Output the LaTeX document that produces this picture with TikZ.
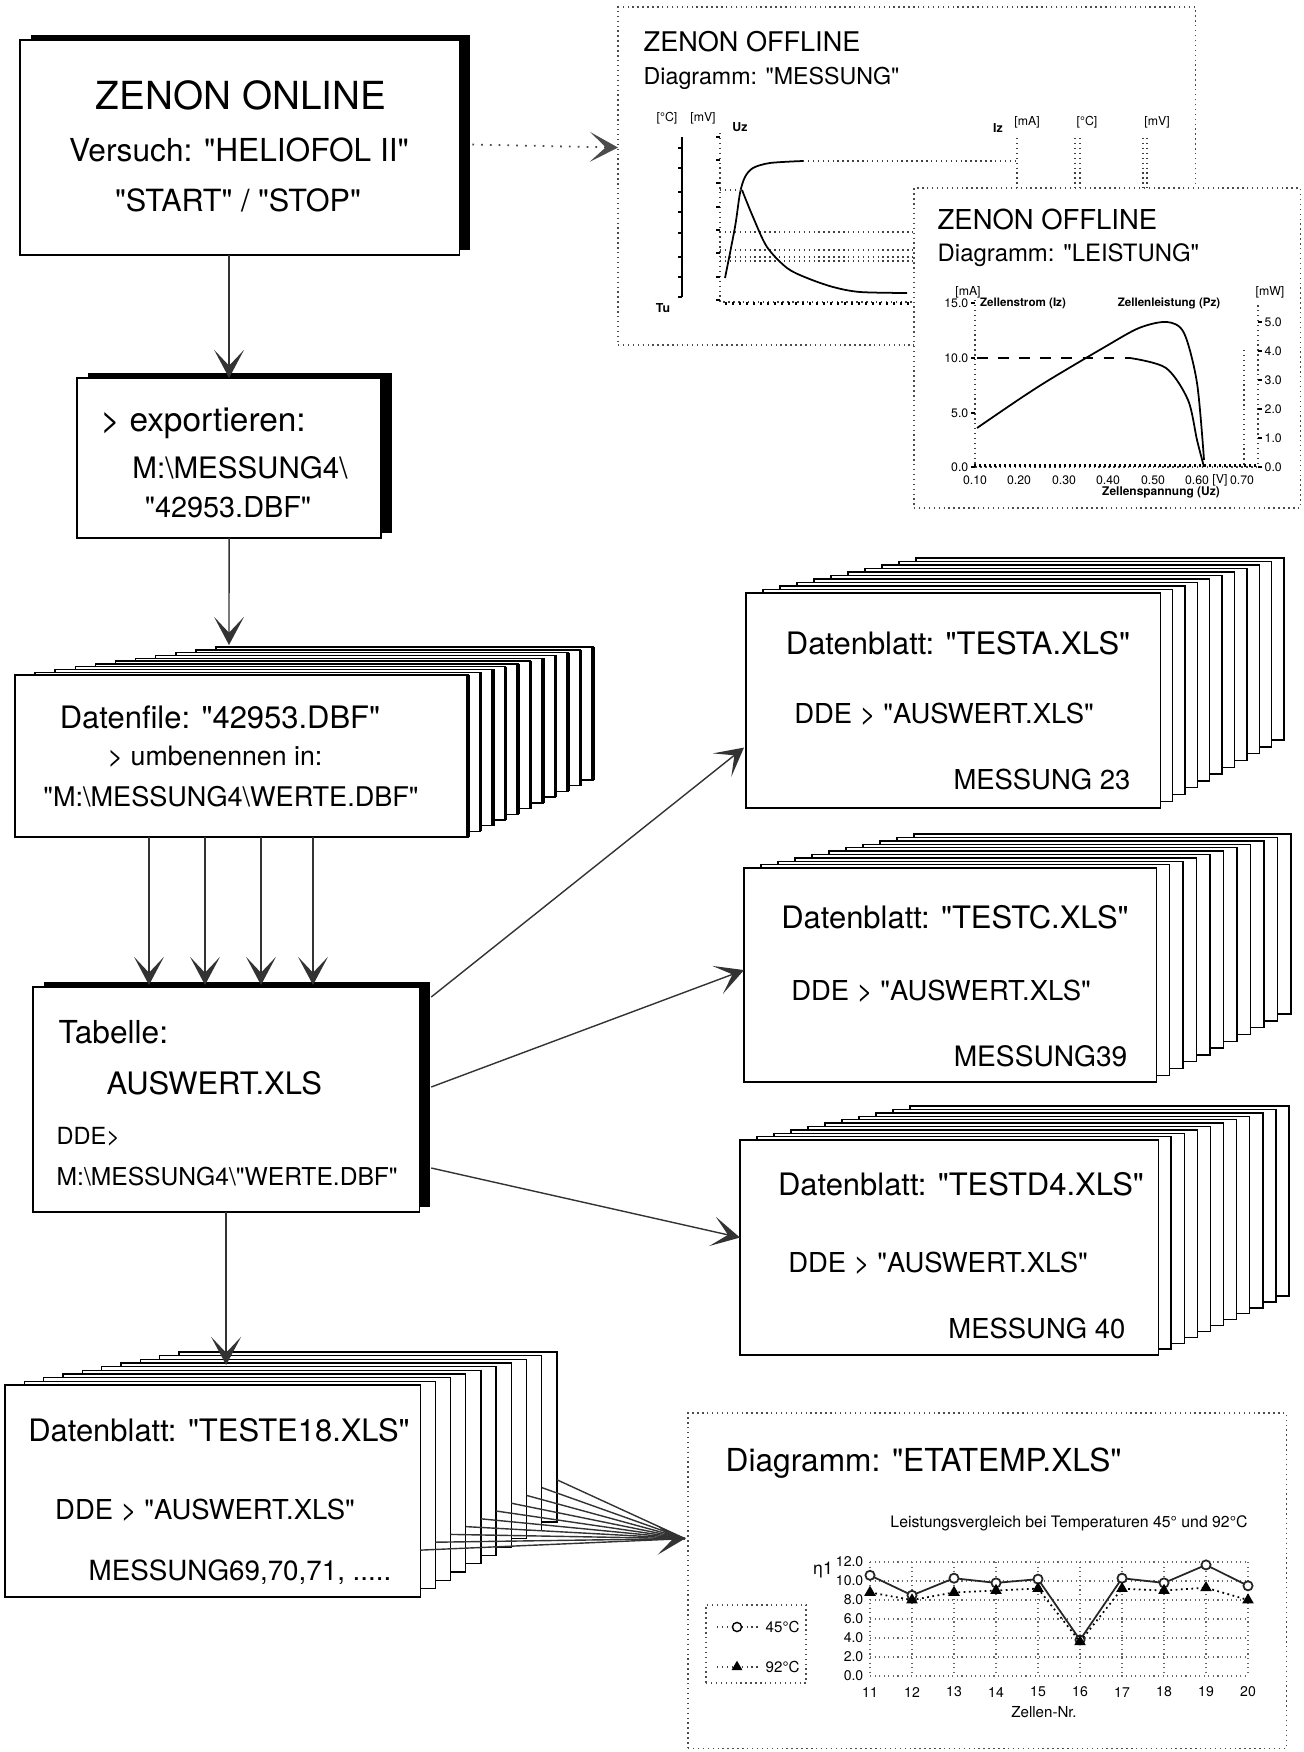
\documentclass[tikz,border=0pt]{standalone}
\usepackage{fontspec}
\setmainfont{TeX Gyre Heros}[Ligatures=TeXOff]
\usetikzlibrary{arrows.meta,calc,shadows,plotmarks}
\newcommand\fsz[1]{\fontsize{#1pt}{#1pt}\selectfont}
% a pile of sheets, back one first, up to the one behind the front sheet
\newcommand\sheetstack[9]{%
  \foreach \i in {#1,...,1}{%
    \pgfmathsetmacro\shl{#2+(#6-#2)*\i/#1}%
    \pgfmathsetmacro\sht{#3+(#7-#3)*\i/#1}%
    \pgfmathsetmacro\shr{#4+(#8-#4)*\i/#1}%
    \pgfmathsetmacro\shb{#5+(#9-#5)*\i/#1}%
    \filldraw[sheet] (\shl,\sht) rectangle (\shr,\shb);
    \draw[sheetedge] (\shr,\sht) -- (\shr,\shb);
  }}
\tikzset{
  conn/.style={draw=black!80, line width=0.4pt},
  dotconn/.style={draw=black!70, line width=0.5pt, dotted},
  chev/.style={-{Stealth[length=8pt,width=8.5pt,inset=4.5pt]}},
  box/.style={draw, line width=0.4pt, fill=white, inner sep=0pt, outer sep=0pt, anchor=north west},
  shbox/.style={box, drop shadow={shadow xshift=3.1pt, shadow yshift=1.4pt, opacity=1, fill=black}},
  dotbox/.style={box, draw=black!70, densely dotted},
  sheet/.style={draw, fill=white, line width=0.4pt},
  sheetedge/.style={line width=0.4pt},
  txt/.style={inner sep=0pt},
  ax/.style={black!75, densely dotted, line width=0.4pt},
  grid/.style={black!60, densely dotted, line width=0.3pt},
  tick/.style={inner sep=0pt, font=\fsz{3.5}},
}
\begin{document}
\begin{tikzpicture}[x=0.01cm,y=-0.01cm]
\useasboundingbox (0,0) rectangle (1304,1752);

% ZENON OFFLINE: MESSUNG
\node[dotbox, minimum width=5.77cm, minimum height=3.38cm] (mess) at (618,7) {};
\node[txt, font=\fsz{7.7}, anchor=west] (messT1) at (643,42) {ZENON OFFLINE};
\node[txt, font=\fsz{6.6}, anchor=west] (messT2) at (643,78) {Diagramm: "MESSUNG"};
\draw[line width=0.4pt] (682,137) -- (682,297);
\foreach \y in {148,168,192,212,233,257,277,297} \draw[line width=0.3pt] (678,\y) -- (682,\y);
\draw[ax] (720,133) -- (720,302) -- (914,302);
\foreach \y in {137,160,183,207,230,253,277,300} \draw[line width=0.3pt] (716,\y) -- (720,\y);
\foreach \x in {726,733,...,912} \draw[line width=0.3pt] (\x,302) -- (\x,305);
\foreach \y in {232,250,257,261} \draw[ax] (720,\y) -- (914,\y);
\draw[line width=0.5pt] plot[smooth] coordinates {(725,278) (735,227) (740,193) (745,177) (753,168) (770,163) (803,161)};
\draw[ax] (803,161) -- (1017,161);
\draw[ax] (720,190) -- (742,190);
\draw[line width=0.5pt] plot[smooth] coordinates {(742,190) (753,217) (767,247) (787,268) (807,278) (833,287) (860,292) (907,293)};
\foreach \x in {1017,1075,1080,1143,1147} \draw[ax] (\x,138) -- (\x,190);
\node[tick] (tuL) at (663,308) {\bfseries Tu};
\node[tick] (uzL) at (740,127) {\bfseries Uz};
\node[tick] (izL) at (998,128) {\bfseries Iz};
\node[tick] (unitA) at (667,118) {[°C]};
\node[tick] (unitB) at (703,118) {[mV]};
\node[tick] (unitC) at (1027,122) {[mA]};
\node[tick] (unitD) at (1087,122) {[°C]};
\node[tick] (unitE) at (1157,122) {[mV]};

% ZENON OFFLINE: LEISTUNG
\node[dotbox, minimum width=3.86cm, minimum height=3.20cm] (leist) at (914,188) {};
\node[txt, font=\fsz{7.8}, anchor=west] (leiT1) at (937,220) {ZENON OFFLINE};
\node[txt, font=\fsz{6.8}, anchor=west] (leiT2) at (937,255) {Diagramm: "LEISTUNG"};
\draw[ax] (975,300) -- (975,467) -- (1258,467) -- (1258,303);
\draw[ax] (1244,350) -- (1244,467);
\foreach \y in {303,358,413,467} \draw[line width=0.3pt] (971,\y) -- (975,\y);
\foreach \y in {322,351,380,409,438,467} \draw[line width=0.3pt] (1258,\y) -- (1262,\y);
\foreach \x in {975,980,...,1255} \draw[line width=0.3pt] (\x,467) -- (\x,464);
\foreach \y/\t [count=\k] in {303/15.0,358/10.0,413/5.0,467/0.0}
  \node[tick, anchor=east] (iy\k) at (969,\y) {\t};
\foreach \y/\t [count=\k] in {322/5.0,351/4.0,380/3.0,409/2.0,438/1.0,467/0.0}
  \node[tick, anchor=west] (py\k) at (1264,\y) {\t};
\foreach \x/\t [count=\k] in {975/0.10,1019/0.20,1064/0.30,1108/0.40,1153/0.50,1197/0.60,1242/0.70}
  \node[tick] (ux\k) at (\x,480) {\t};
\node[tick] (maL) at (968,292) {[mA]};
\node[tick] (mwL) at (1270,292) {[mW]};
\node[tick] (vL) at (1220,480) {[V]};
\node[tick, font=\fsz{3.4}\bfseries] (uzT) at (1161,492) {Zellenspannung (Uz)};
\node[tick, font=\fsz{3.3}\bfseries] (izT) at (1023,303) {Zellenstrom (Iz)};
\node[tick, font=\fsz{3.3}\bfseries] (pzT) at (1169,303) {Zellenleistung (Pz)};
\draw[line width=0.5pt] plot[smooth] coordinates {(977,428) (1018,400) (1049,380) (1103,348) (1139,328) (1167,322) (1184,333) (1197,383) (1204,460)};
\draw[line width=0.5pt, dashed] (977,358) -- (1130,358);
\draw[line width=0.5pt] plot[smooth] coordinates {(1130,358) (1166,368) (1188,400) (1197,440) (1204,467)};

% ZENON ONLINE
\node[shbox, minimum width=4.39cm, minimum height=2.15cm] (online) at (20,40) {};
\node[txt, font=\fsz{11}] (onT1) at (241,95) {ZENON ONLINE};
\node[txt, font=\fsz{9}] (onT2) at (239,150) {Versuch: "HELIOFOL II"};
\node[txt, font=\fsz{8.7}] (onT3) at (238,200) {"START" / "STOP"};
\draw[dotconn, chev] ($(online.east)+(13,-3)$) -- (mess.west |- online.east);

% export
\node[shbox, minimum width=3.04cm, minimum height=1.60cm] (export) at (77,378) {};
\node[txt, font=\fsz{9.5}, anchor=west] (exT1) at (100,423) {> exportieren:};
\node[txt, font=\fsz{8.4}] (exT2) at (240,468) {M:\textbackslash MESSUNG4\textbackslash};
\node[txt, font=\fsz{8.2}] (exT3) at (228,507) {"42953.DBF"};
\draw[conn, chev] (export.north |- online.south) -- (export.north);

% Datenfile
\begin{scope}[sheetedge/.style={line width=1.1pt}]
\sheetstack{10}{15}{675}{468}{837}{216}{647}{593}{780}
\end{scope}
\node[box, minimum width=4.53cm, minimum height=1.62cm] (datenfile) at (15,675) {};
\draw[line width=1.1pt] (datenfile.north east) -- (datenfile.south east);
\node[txt, font=\fsz{8.8}] (dfT1) at (220,717) {Datenfile: "42953.DBF"};
\node[txt, font=\fsz{7.6}] (dfT2) at (215,757) {> umbenennen in:};
\node[txt, font=\fsz{7.7}] (dfT3) at (231,797) {"M:\textbackslash MESSUNG4\textbackslash WERTE.DBF"};
\coordinate (dftop) at (229,645);
\draw[conn, chev] (export.south) -- (dftop);

% Tabelle
\node[shbox, minimum width=3.86cm, minimum height=2.25cm] (tabelle) at (33,987) {};
\node[txt, font=\fsz{9}, anchor=west] (tbT1) at (58,1032) {Tabelle:};
\node[txt, font=\fsz{8.8}, anchor=west] (tbT2) at (106,1083) {AUSWERT.XLS};
\node[txt, font=\fsz{6.7}, anchor=west] (tbT3) at (56,1137) {DDE>};
\node[txt, font=\fsz{7}, anchor=west] (tbT4) at (56,1177) {M:\textbackslash MESSUNG4\textbackslash"WERTE.DBF"};
\foreach \x in {149,205,261,313}
  \draw[conn, chev] ($(datenfile.south west)+(\x-15,0)$) -- ($(tabelle.north west)+(\x-33,-2)$);

% Datenblaetter
\sheetstack{10}{746}{593}{1160}{808}{916}{558}{1284}{740}
\node[box, minimum width=4.14cm, minimum height=2.15cm] (testa) at (746,593) {};
\node[txt, font=\fsz{8.8}] (taT1) at (958,643) {Datenblatt: "TESTA.XLS"};
\node[txt, font=\fsz{7.8}] (taT2) at (944,714) {DDE > "AUSWERT.XLS"};
\node[txt, font=\fsz{7.8}, anchor=east] (taT3) at (1131,779) {MESSUNG 23};

\sheetstack{10}{744}{868}{1156}{1082}{914}{834}{1291}{1014}
\node[box, minimum width=4.12cm, minimum height=2.14cm] (testc) at (744,868) {};
\node[txt, font=\fsz{8.8}] (tcT1) at (955,917) {Datenblatt: "TESTC.XLS"};
\node[txt, font=\fsz{7.8}] (tcT2) at (941,991) {DDE > "AUSWERT.XLS"};
\node[txt, font=\fsz{8}, anchor=east] (tcT3) at (1128,1056) {MESSUNG39};

\sheetstack{10}{740}{1140}{1158}{1355}{910}{1106}{1289}{1296}
\node[box, minimum width=4.18cm, minimum height=2.15cm] (testd) at (740,1140) {};
\node[txt, font=\fsz{8.8}] (tdT1) at (961,1184) {Datenblatt: "TESTD4.XLS"};
\node[txt, font=\fsz{7.8}] (tdT2) at (938,1263) {DDE > "AUSWERT.XLS"};
\node[txt, font=\fsz{7.8}, anchor=east] (tdT3) at (1126,1328) {MESSUNG 40};

\draw[conn, chev] ($(tabelle.north east)+(12,10)$) -- ($(testa.west)+(-2,47)$);
\draw[conn, chev] ($(tabelle.north east)+(12,100)$) -- ($(testc.west)+(0,-5)$);
\draw[conn, chev] ($(tabelle.north east)+(12,181)$) -- ($(testd.west)+(0,-10)$);

% TESTE18
\sheetstack{9}{5}{1385}{420}{1597}{179}{1352}{557}{1522}
\node[box, minimum width=4.15cm, minimum height=2.12cm] (teste) at (5,1385) {};
\node[txt, font=\fsz{8.8}] (teT1) at (219,1430) {Datenblatt: "TESTE18.XLS"};
\node[txt, font=\fsz{7.8}] (teT2) at (205,1510) {DDE > "AUSWERT.XLS"};
\node[txt, font=\fsz{7.9}] (teT3) at (240,1572) {MESSUNG69,70,71, .....};
\draw[conn, chev] (tabelle.south) -- ($(tabelle.south |- teste.north)+(0,-20)$);

% ETATEMP
\node[dotbox, minimum width=5.98cm, minimum height=3.35cm] (etatemp) at (688,1413) {};
\coordinate (etain) at ($(etatemp.west)+(-3,-42)$);
\foreach \i in {1,...,9}{
  \pgfmathsetmacro\lx{420+\i*(557-420)/9}
  \pgfmathsetmacro\ly{1550-\i*7.8}
  \draw[conn] (\lx,\ly) -- (etain);
}
\draw[conn, chev] ($(teste.south east)+(0,-47)$) -- (etain);
\node[txt, font=\fsz{9}, anchor=west] (etT) at (725,1463) {Diagramm: "ETATEMP.XLS"};
\node[txt, font=\fsz{4.5}] (etSub) at (1069,1523) {Leistungsvergleich bei Temperaturen 45° und 92°C};
\foreach \v in {0,2,...,12} \draw[grid] (870,{1676-9.5*\v}) -- (1248,{1676-9.5*\v});
\foreach \n in {0,...,9} \draw[grid] ({870+42*\n},1562) -- ({870+42*\n},1676);
\foreach \v in {0,2,...,12} \node[tick, anchor=east, font=\fsz{4}] (ey\v) at (864,{1676-9.5*\v}) {\v.0};
\foreach \n in {11,...,20} \node[tick, font=\fsz{4}] (ex\n) at ({870+42*(\n-11)},1692) {\n};
\node[tick, font=\fsz{4.3}] (znr) at (1044,1712) {Zellen-Nr.};
\node[tick, font=\fsz{5}] (etaL) at (823,1570) {η1};
\draw[line width=0.5pt, black!85] plot[mark=*, mark size=1.3pt, mark options={fill=white, solid}]
  coordinates {(870,1575.3) (912,1595.3) (954,1578.2) (996,1582.9) (1038,1579.1) (1080,1639.9) (1122,1578.2) (1164,1582.9) (1206,1564.9) (1248,1585.8)};
\draw[line width=0.5pt, densely dotted] plot[mark=triangle*, mark size=1.4pt, mark options={solid}]
  coordinates {(870,1592.4) (912,1600) (954,1592.4) (996,1590.5) (1038,1588.6) (1080,1641.8) (1122,1588.6) (1164,1590.5) (1206,1587.7) (1248,1600)};
\node[dotbox, minimum width=1cm, minimum height=0.78cm] (legend) at (706,1605) {};
\draw[ax] (717,1627) -- (758,1627);
\draw plot[only marks, mark=*, mark size=1.3pt, mark options={fill=white}] coordinates {(737,1627)};
\node[tick, anchor=west, font=\fsz{4.3}] (lgA) at (765,1627) {45°C};
\draw[ax] (717,1667) -- (758,1667);
\draw plot[only marks, mark=triangle*, mark size=1.4pt] coordinates {(737,1667)};
\node[tick, anchor=west, font=\fsz{4.3}] (lgB) at (765,1667) {92°C};
\end{tikzpicture}
\end{document}
